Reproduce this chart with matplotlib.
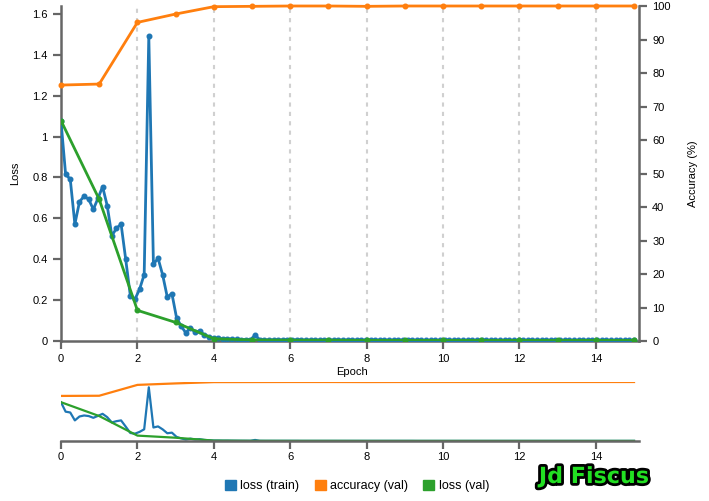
import numpy as np
import matplotlib
matplotlib.use("Agg")
import matplotlib.pyplot as plt
from matplotlib.patches import Patch
from matplotlib.ticker import FuncFormatter
import matplotlib.patheffects as pe

plt.rcParams['font.family'] = ['Liberation Sans', 'DejaVu Sans']

# --- data ---
train_loss = [
    1.075, 0.815, 0.792, 0.572, 0.681, 0.709, 0.693, 0.644, 0.698, 0.755,
    0.662, 0.515, 0.551, 0.572, 0.400, 0.222, 0.204, 0.253, 0.325, 1.492,
    0.375, 0.405, 0.323, 0.215, 0.232, 0.114, 0.073, 0.040, 0.065, 0.043,
    0.050, 0.030, 0.021, 0.013, 0.013, 0.010, 0.011, 0.009, 0.008, 0.007,
    0.007, 0.006, 0.029, 0.006, 0.005, 0.005, 0.005, 0.005, 0.005, 0.005,
    0.005, 0.005, 0.004, 0.004, 0.004, 0.004, 0.004, 0.004, 0.004, 0.004,
    0.004, 0.004, 0.004, 0.004, 0.004, 0.004, 0.004, 0.004, 0.004, 0.004,
    0.004, 0.004, 0.004, 0.004, 0.004, 0.004, 0.004, 0.003, 0.003, 0.003,
    0.003, 0.003, 0.003, 0.003, 0.003, 0.003, 0.003, 0.003, 0.003, 0.003,
    0.003, 0.003, 0.003, 0.003, 0.003, 0.003, 0.003, 0.003, 0.003, 0.003,
    0.003, 0.003, 0.003, 0.003, 0.003, 0.003, 0.003, 0.003, 0.003, 0.003,
    0.003, 0.003, 0.003, 0.003, 0.003, 0.003, 0.003, 0.003, 0.003, 0.003,
    0.003, 0.003, 0.003, 0.003, 0.003,
]
train_epoch = np.linspace(0, 15, len(train_loss))

val_epoch = [0, 1, 2, 3, 4, 5, 6, 7, 8, 9, 10, 11, 12, 13, 14, 15]
val_loss = [1.078, 0.693, 0.150, 0.091, 0.011, 0.005, 0.004, 0.004,
            0.003, 0.003, 0.003, 0.003, 0.003, 0.003, 0.003, 0.003]
val_acc = [76.4, 76.7, 95.1, 97.6, 99.8, 99.9, 100, 100,
           99.9, 100, 100, 100, 100, 100, 100, 100]

BLUE, ORANGE, GREEN = '#1f77b4', '#ff7f0e', '#2ca02c'
AXC = '#666666'
W, H = 709, 501
XMAX, YMAX = 15.13, 1.639

fig = plt.figure(figsize=(W / 100, H / 100), dpi=100)


def style_axis(a, sides):
    for s in ['top', 'bottom', 'left', 'right']:
        a.spines[s].set_visible(s in sides)
        a.spines[s].set_color(AXC)
        a.spines[s].set_linewidth(1.8)
    a.tick_params(colors='black', labelsize=8, length=6, width=1.6)
    a.tick_params(axis='both', which='both', color=AXC)


# --- main chart ---
ax = fig.add_axes([61 / W, 1 - 341 / H, 578 / W, 335 / H])
ax2 = ax.twinx()
ax.set_xlim(0, XMAX)
ax.set_ylim(0, YMAX)
ax2.set_ylim(0, 100)
ax.set_xticks(range(0, 15, 2))
ax.set_yticks(np.arange(0, 1.61, 0.2))
ax.yaxis.set_major_formatter(FuncFormatter(lambda v, p: f'{v:g}'))
ax2.set_yticks(range(0, 101, 10))
style_axis(ax, ['left', 'bottom'])
style_axis(ax2, ['right'])
for x in range(2, 15, 2):
    ax.axvline(x, color='#d0d0d0', lw=1.5, ls=(0, (2, 2.5)), zorder=0)

ax.plot(train_epoch, train_loss, color=BLUE, lw=2, marker='o', ms=3.3, zorder=3)
ax.plot(val_epoch, val_loss, color=GREEN, lw=2, marker='o', ms=3.3, zorder=4)
ax2.plot(val_epoch, val_acc, color=ORANGE, lw=2, marker='o', ms=3.3, clip_on=False)

ax.set_ylabel('Loss', fontsize=8)
ax.yaxis.set_label_coords(-0.071, 0.5)
ax2.set_ylabel('Accuracy (%)', fontsize=8)
ax2.yaxis.set_label_coords(1.085, 0.5)
ax.set_xlabel('Epoch', fontsize=8)
ax.xaxis.set_label_coords(0.503, -0.078)

# --- overview chart ---
bx = fig.add_axes([61 / W, 1 - 441 / H, 578 / W, 59 / H])
bx2 = bx.twinx()
bx.set_xlim(0, XMAX)
bx.set_ylim(0, YMAX)
bx2.set_ylim(0, 100)
bx.set_xticks(range(0, 15, 2))
bx.set_yticks([])
bx2.set_yticks([])
style_axis(bx, ['bottom'])
style_axis(bx2, [])
bx.tick_params(axis='x', pad=2)
bx.plot(train_epoch, train_loss, color=BLUE, lw=1.6)
bx.plot(val_epoch, val_loss, color=GREEN, lw=1.6)
bx2.plot(val_epoch, val_acc, color=ORANGE, lw=1.6)

# --- legend ---
handles = [Patch(color=BLUE, label='loss (train)'),
           Patch(color=ORANGE, label='accuracy (val)'),
           Patch(color=GREEN, label='loss (val)')]
fig.legend(handles=handles, loc='center', bbox_to_anchor=(357 / W, 1 - 486 / H),
           ncol=3, frameon=False, fontsize=9, handlelength=0.9,
           handleheight=0.9, handletextpad=0.35, columnspacing=1.2)

# --- watermark ---
fig.text(594 / W, 1 - 477 / H, 'Jd Fiscus', ha='center', va='center',
         fontsize=16, fontweight='bold', family=['Liberation Sans Narrow', 'DejaVu Sans'],
         color='#22e022',
         path_effects=[pe.withStroke(linewidth=4, foreground='black')])

fig.savefig('out.png', dpi=100)
